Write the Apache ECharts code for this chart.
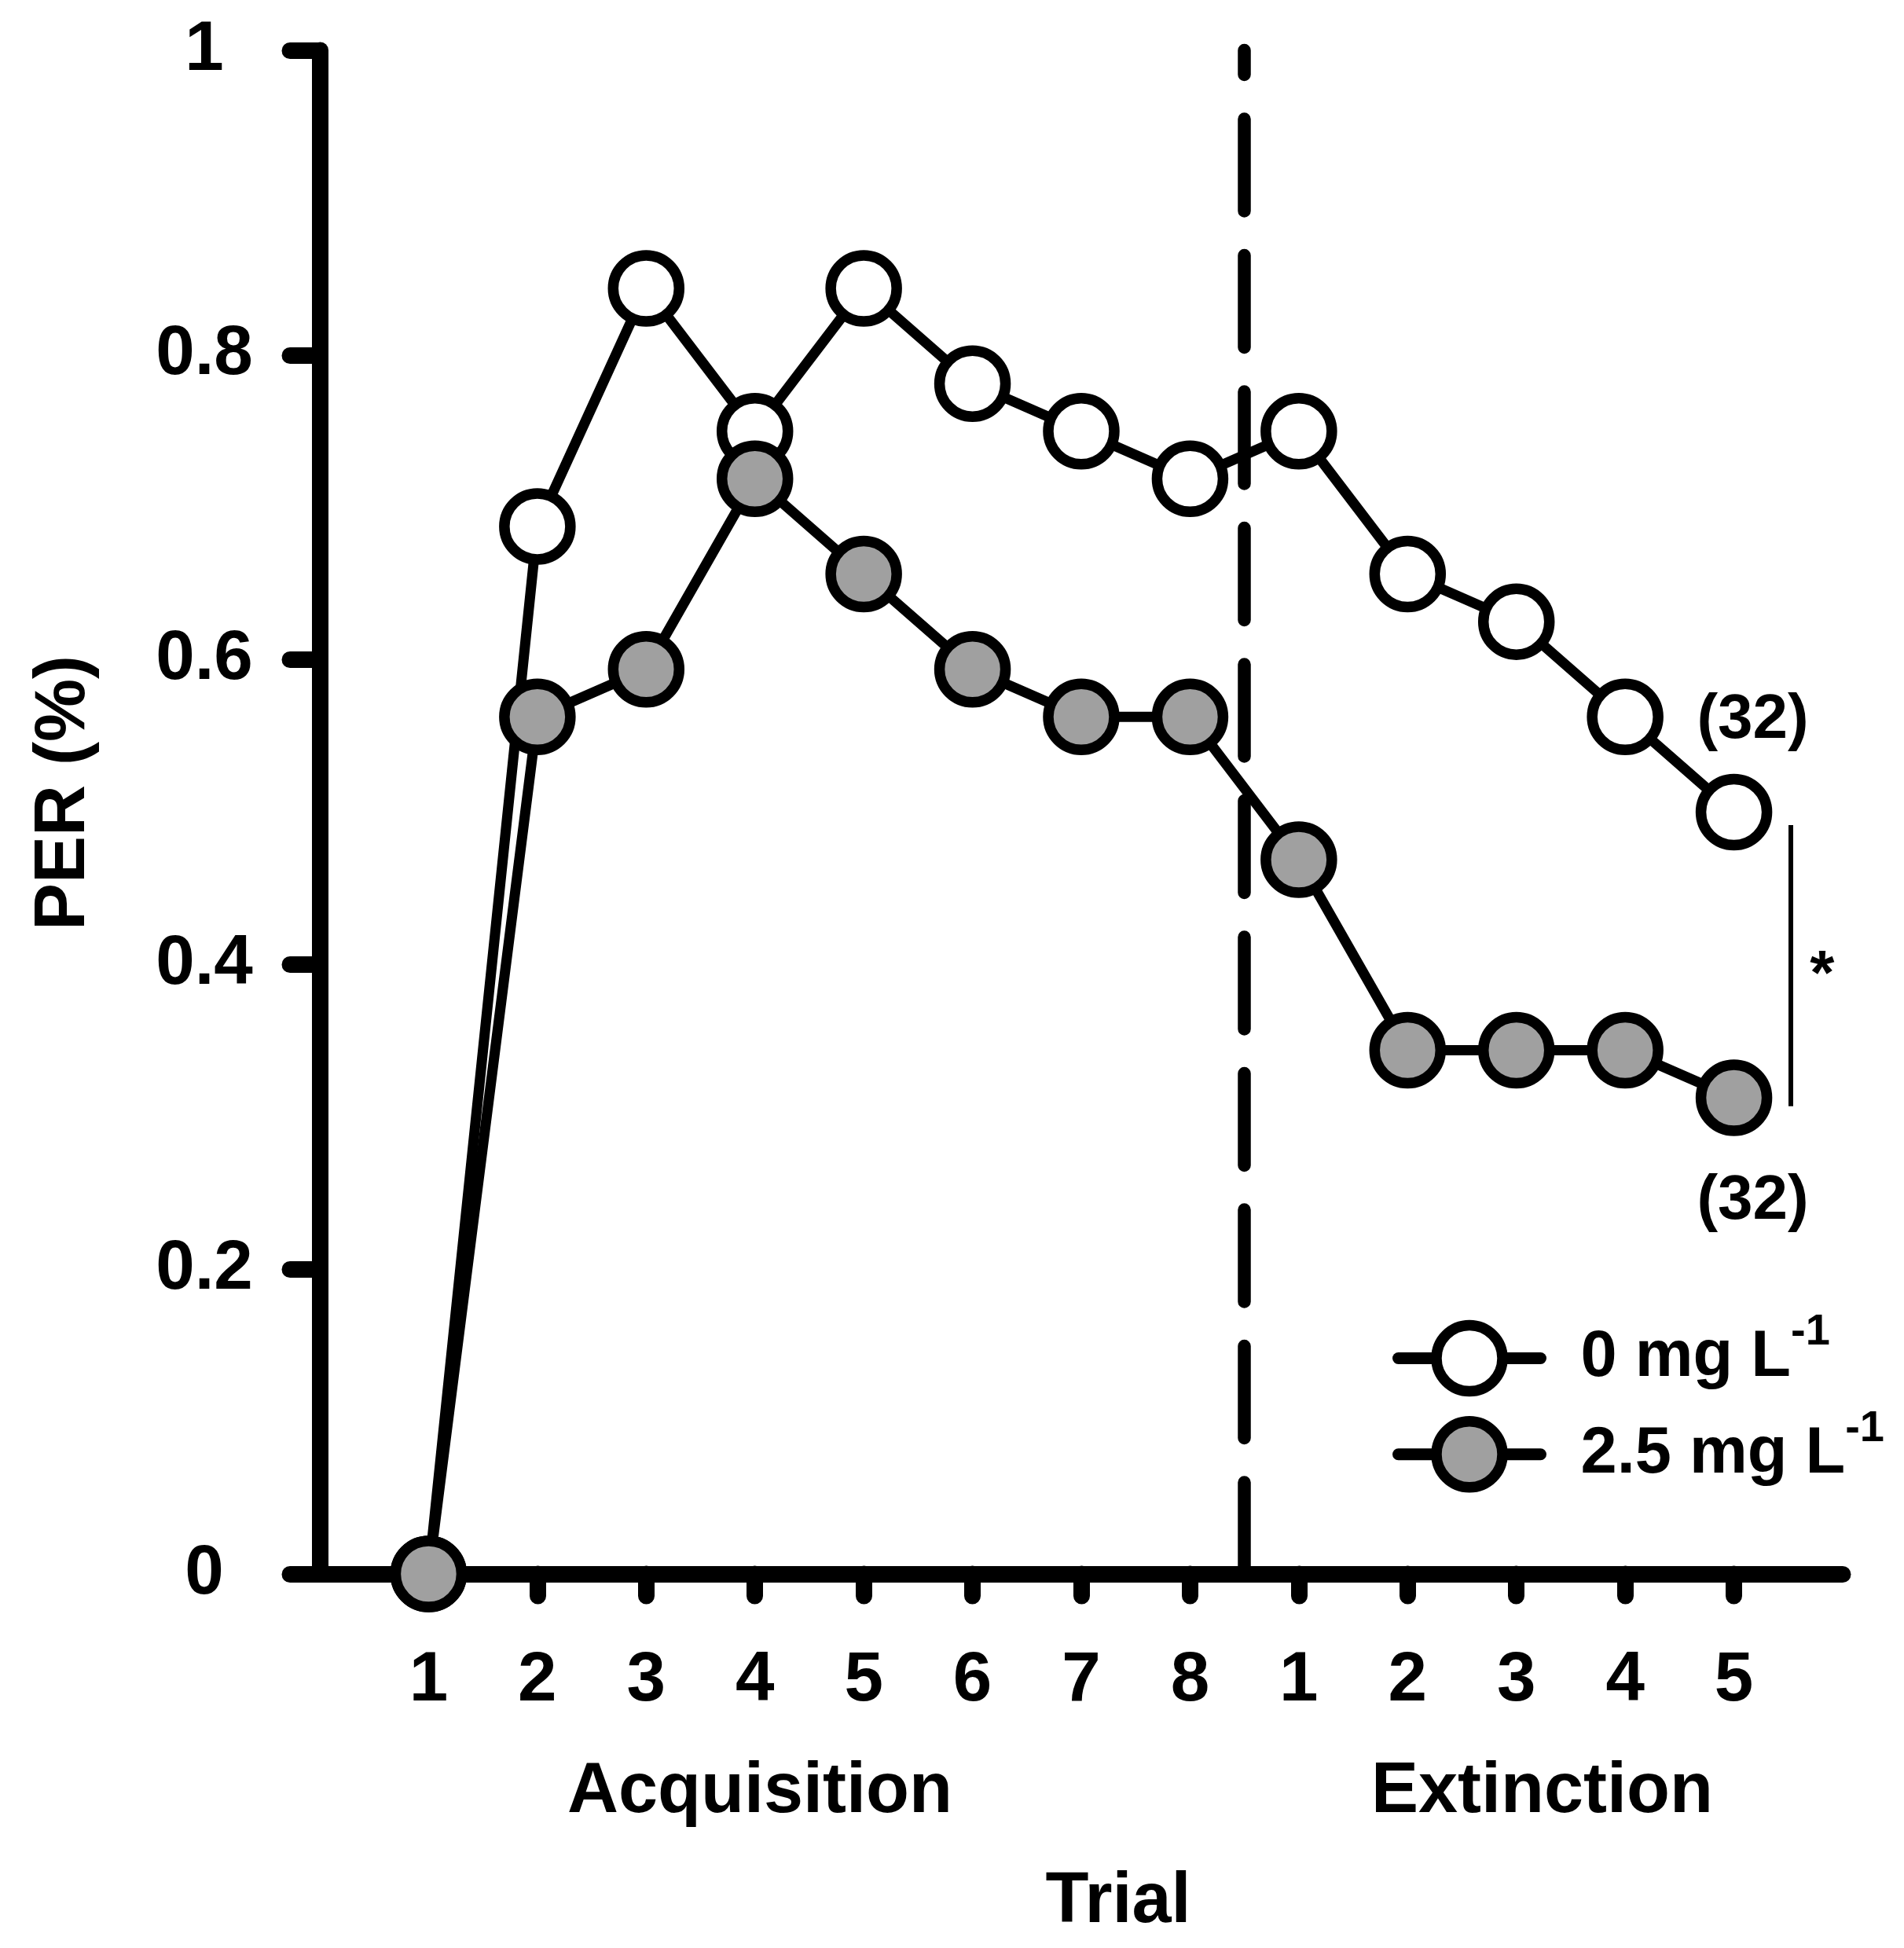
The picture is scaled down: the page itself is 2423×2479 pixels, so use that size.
<!DOCTYPE html>
<html>
<head>
<meta charset="utf-8">
<script src="https://cdn.jsdelivr.net/npm/echarts@6/dist/echarts.min.js"></script>
<style>
  html, body { margin: 0; padding: 0; background: #fff; }
  #per { width: 2423px; height: 2479px; }
</style>
</head>
<body>
<div id="per"></div>
<script>
// trial positions on the x axis (acquisition 1-8, extinction 1-5)
var trialPos = [1, 2, 3, 4, 5, 6, 7, 8, 9, 10, 11, 12, 13];
var trialLabels = ['1', '2', '3', '4', '5', '6', '7', '8', '1', '2', '3', '4', '5'];
var yTicks = [0, 0.2, 0.4, 0.6, 0.8, 1];

var seriesNames = ['0 mg L', '2.5 mg L'];
var unitSup = '-1';
var control = [0, 0.6875, 0.84375, 0.75, 0.84375, 0.78125, 0.75, 0.71875, 0.75, 0.65625, 0.625, 0.5625, 0.5];
var treated = [0, 0.5625, 0.59375, 0.71875, 0.65625, 0.59375, 0.5625, 0.5625, 0.46875, 0.34375, 0.34375, 0.34375, 0.3125];
var sampleSizes = [32, 32];

var phaseBoundary = 8.5;
var font = 'Liberation Sans';

var container = document.getElementById('per');
var chart = echarts.init(container);

function buildData(values, n, labelOffset) {
  return values.map(function (v, i) {
    if (i < values.length - 1) return [trialPos[i], v];
    return {
      value: [trialPos[i], v],
      label: {
        show: true,
        position: 'inside',
        offset: labelOffset,
        formatter: '(' + n + ')',
        color: '#000',
        fontFamily: font,
        fontWeight: 'bold',
        fontSize: 80
      }
    };
  });
}

chart.setOption({
  animation: false,
  backgroundColor: '#fff',
  grid: { left: 407, right: 78, top: 64, bottom: 476, outerBoundsMode: 'none' },
  legend: {
    data: seriesNames,
    orient: 'vertical',
    left: 1772,
    top: 1668,
    padding: 0,
    itemWidth: 181,
    itemHeight: 105,
    itemGap: 13,
    selectedMode: false,
    itemStyle: { borderColor: '#000', borderWidth: 13.5 },
    lineStyle: { color: '#000', width: 15, cap: 'round' },
    formatter: function (name) { return '{t|' + name + '}{s|' + unitSup + '}'; },
    textStyle: {
      color: '#000',
      rich: {
        t: { fontFamily: font, fontWeight: 'bold', fontSize: 83, lineHeight: 121, padding: [0, 0, 0, 46], color: '#000' },
        s: { fontFamily: font, fontWeight: 'bold', fontSize: 56, lineHeight: 56, verticalAlign: 'top', color: '#000' }
      }
    }
  },
  xAxis: {
    type: 'value',
    min: 0,
    max: 14,
    interval: 1,
    name: 'Trial',
    nameLocation: 'middle',
    nameGap: 373,
    nameTextStyle: { fontFamily: font, fontWeight: 'bold', fontSize: 90, color: '#000', padding: [0, 0, 0, 94] },
    splitLine: { show: false },
    axisLine: { lineStyle: { color: '#000', width: 21, cap: 'round' } },
    axisTick: { customValues: trialPos, length: 28, lineStyle: { color: '#000', width: 21, cap: 'round' } },
    axisLabel: {
      customValues: trialPos,
      formatter: function (v) { return trialLabels[Math.round(v) - 1] || ''; },
      margin: 92,
      color: '#000',
      fontFamily: font,
      fontWeight: 'bold',
      fontSize: 89
    }
  },
  yAxis: {
    type: 'value',
    min: 0,
    max: 1,
    interval: 0.2,
    name: 'PER (%)',
    nameLocation: 'middle',
    nameGap: 280,
    nameTextStyle: { fontFamily: font, fontWeight: 'bold', fontSize: 90, color: '#000', padding: [0, 0, 0, 49] },
    splitLine: { show: false },
    axisLine: { show: true, lineStyle: { color: '#000', width: 21, cap: 'round' } },
    axisTick: { show: true, length: 38, lineStyle: { color: '#000', width: 21, cap: 'round' } },
    axisLabel: {
      formatter: function (v) {
        var i = yTicks.findIndex(function (t) { return Math.abs(t - v) < 1e-6; });
        return i < 0 ? '' : String(yTicks[i]);
      },
      align: 'center',
      margin: 147,
      color: '#000',
      fontFamily: font,
      fontWeight: 'bold',
      fontSize: 89
    }
  },
  graphic: [
    { type: 'text', left: 966 - 244, top: 2236, style: { text: 'Acquisition', fill: '#000', font: 'bold 90px "Liberation Sans"' } },
    { type: 'text', left: 1961 - 216, top: 2236, style: { text: 'Extinction', fill: '#000', font: 'bold 90px "Liberation Sans"' } }
  ],
  series: [
    {
      name: seriesNames[0],
      type: 'line',
      data: buildData(control, sampleSizes[0], [24, -117]),
      symbol: 'circle',
      symbolSize: 84,
      lineStyle: { color: '#000', width: 13 },
      itemStyle: { color: '#fff', borderColor: '#000', borderWidth: 13.5 },
      markLine: {
        silent: true,
        symbol: ['none', 'none'],
        label: { show: false },
        lineStyle: { color: '#000', width: 16.5, type: [117, 56.5], dashOffset: 86, cap: 'round' },
        data: [[{ coord: [phaseBoundary, 1] }, { coord: [phaseBoundary, 0] }]]
      }
    },
    {
      name: seriesNames[1],
      type: 'line',
      data: buildData(treated, sampleSizes[1], [24, 132]),
      symbol: 'circle',
      symbolSize: 84,
      lineStyle: { color: '#000', width: 13 },
      itemStyle: { color: '#a0a0a0', borderColor: '#000', borderWidth: 13.5 },
      markLine: {
        silent: true,
        symbol: ['none', 'none'],
        label: { show: false },
        lineStyle: { color: '#000', width: 6, type: 'solid' },
        data: [[{ coord: [13.52, 0.4915] }, { coord: [13.52, 0.307] }]]
      },
      markPoint: {
        silent: true,
        symbol: 'circle',
        symbolSize: 1,
        itemStyle: { color: 'rgba(0,0,0,0)' },
        label: { show: true, position: 'inside', formatter: '*', color: '#000', fontFamily: font, fontWeight: 'bold', fontSize: 80 },
        data: [{ coord: [13.81, 0.392] }]
      }
    }
  ]
});
</script>
</body>
</html>
